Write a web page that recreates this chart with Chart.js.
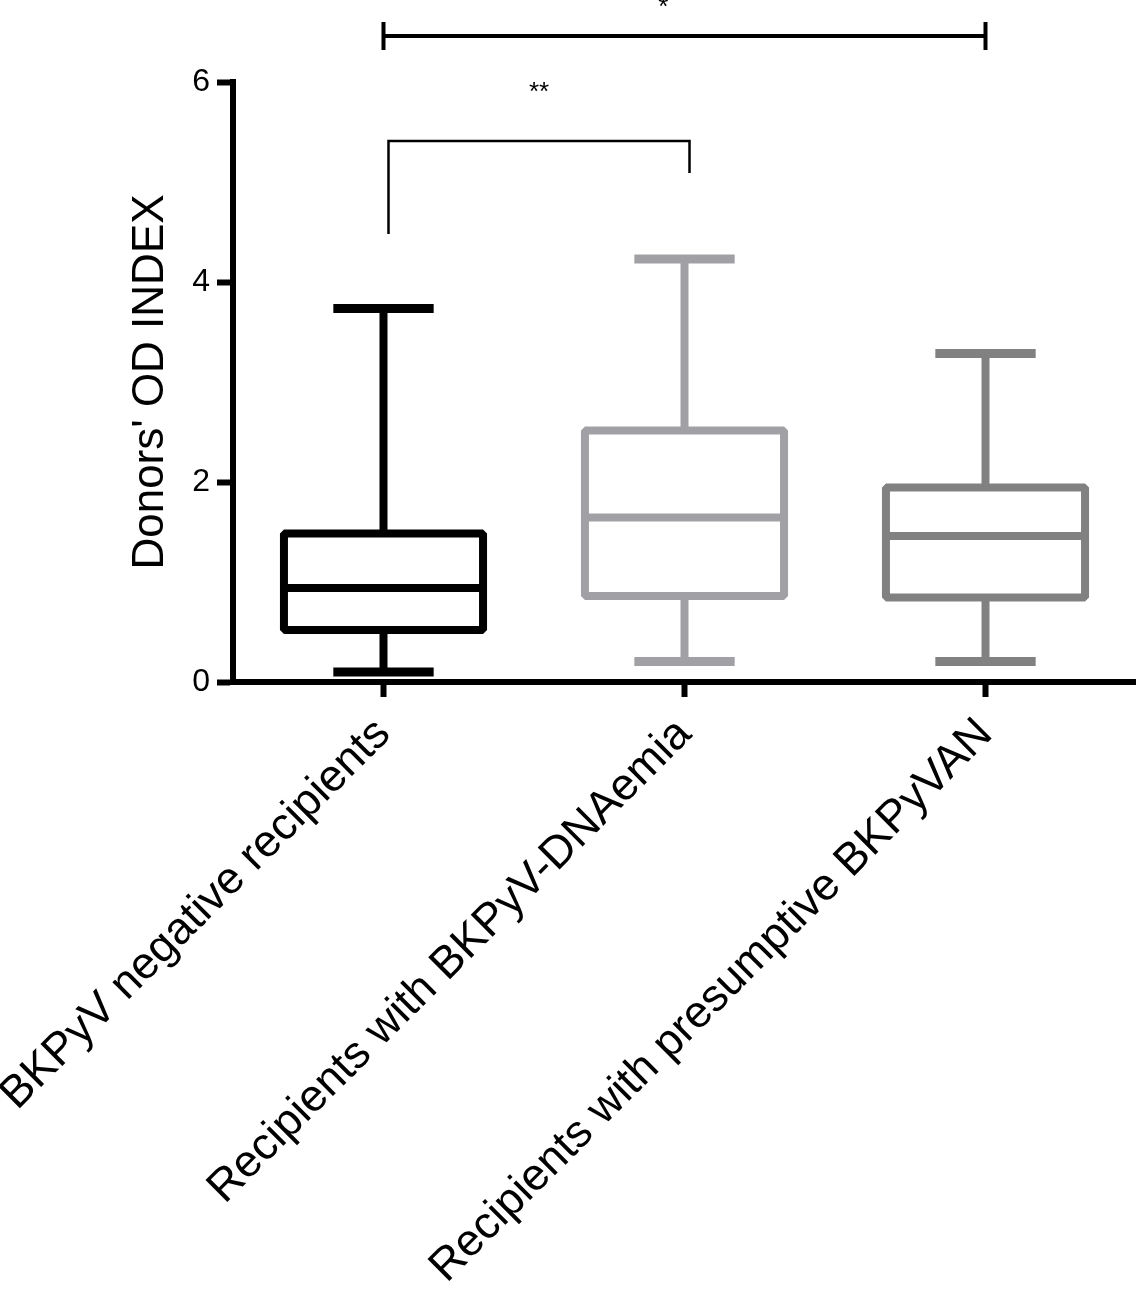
<!DOCTYPE html>
<html>
<head>
<meta charset="utf-8">
<title>Donors' OD INDEX</title>
<script src="https://cdn.jsdelivr.net/npm/chart.js@4.4.0/dist/chart.umd.min.js"></script>
<style>
  html, body { margin: 0; padding: 0; background: #fff; }
  #wrap { width: 1136px; height: 1291px; }
</style>
</head>
<body>
<div id="wrap"><canvas id="grafico" width="1136" height="1291"></canvas></div>
<script>
// groups on the x axis
const groups = [
  'BKPyV negative recipients',
  'Recipients with BKPyV-DNAemia',
  'Recipients with presumptive BKPyVAN'
];

// box plot values
const mins    = [0.10, 0.205, 0.205];
const q1s     = [0.52, 0.86, 0.845];
const medians = [0.94, 1.645, 1.46];
const q3s     = [1.485, 2.515, 1.945];
const maxs    = [3.735, 4.23, 3.285];

const yTicks = [0, 2, 4, 6];

// significance brackets: from group, to group, level, text
const bracketFrom  = [0, 0];
const bracketTo    = [2, 1];
const bracketLevel = [6.46, 5.41];
const bracketText  = ['*', '**'];

const boxColours = ['#000000', '#a1a1a5', '#818181'];
const FONT = "'Liberation Sans', Arial, Helvetica, sans-serif";

const boxPlot = {
  id: 'boxPlot',
  afterDatasetsDraw(chart) {
    const { ctx, scales: { x, y } } = chart;
    const bars = chart.getDatasetMeta(0).data;
    const lw = 8;
    const capHalf = (x.getPixelForValue(1) - x.getPixelForValue(0)) / 6;
    ctx.save();
    ctx.lineJoin = 'bevel';
    ctx.lineCap = 'butt';
    bars.forEach((bar, i) => {
      const cx = bar.x;
      const half = bar.width / 2 - lw / 2;
      const top = y.getPixelForValue(q3s[i]);
      const bot = y.getPixelForValue(q1s[i]);
      const med = y.getPixelForValue(medians[i]);
      const hi = y.getPixelForValue(maxs[i]);
      const lo = y.getPixelForValue(mins[i]);
      ctx.strokeStyle = boxColours[i];
      ctx.lineWidth = lw;
      ctx.strokeRect(cx - half, top, half * 2, bot - top);
      ctx.beginPath();
      ctx.moveTo(cx - half, med); ctx.lineTo(cx + half, med);
      ctx.moveTo(cx, top); ctx.lineTo(cx, hi);
      ctx.moveTo(cx, bot); ctx.lineTo(cx, lo);
      ctx.stroke();
      ctx.lineWidth = 9;
      ctx.beginPath();
      ctx.moveTo(cx - capHalf, hi); ctx.lineTo(cx + capHalf, hi);
      ctx.moveTo(cx - capHalf, lo); ctx.lineTo(cx + capHalf, lo);
      ctx.stroke();
    });
    ctx.restore();
  }
};

const brackets = {
  id: 'brackets',
  afterDraw(chart) {
    const { ctx, scales: { x, y } } = chart;
    ctx.save();
    ctx.strokeStyle = '#000';
    ctx.fillStyle = '#000';
    ctx.font = '26px ' + FONT;
    ctx.textAlign = 'center';
    ctx.textBaseline = 'middle';

    // wide bracket with end bars
    let x1 = x.getPixelForValue(bracketFrom[0]);
    let x2 = x.getPixelForValue(bracketTo[0]);
    let yy = y.getPixelForValue(bracketLevel[0]);
    ctx.lineWidth = 4;
    ctx.beginPath();
    ctx.moveTo(x1, yy); ctx.lineTo(x2, yy);
    ctx.moveTo(x1, yy - 14); ctx.lineTo(x1, yy + 14);
    ctx.moveTo(x2, yy - 14); ctx.lineTo(x2, yy + 14);
    ctx.stroke();
    ctx.fillText(bracketText[0], x.getPixelForValue(0.93), y.getPixelForValue(6.74));

    // narrow bracket with legs down to the boxes
    x1 = x.getPixelForValue(bracketFrom[1]) + 5;
    x2 = x.getPixelForValue(bracketTo[1]) + 5;
    yy = y.getPixelForValue(bracketLevel[1]);
    ctx.lineWidth = 2.5;
    ctx.lineJoin = 'miter';
    ctx.beginPath();
    ctx.moveTo(x1, y.getPixelForValue(4.48));
    ctx.lineTo(x1, yy);
    ctx.lineTo(x2, yy);
    ctx.lineTo(x2, y.getPixelForValue(5.09));
    ctx.stroke();
    ctx.fillText(bracketText[1], (x1 + x2) / 2, y.getPixelForValue(5.89));
    ctx.restore();
  }
};

new Chart(document.getElementById('grafico'), {
  type: 'bar',
  data: {
    labels: groups,
    datasets: [{
      data: groups.map((g, i) => [q1s[i], q3s[i]]),
      backgroundColor: 'rgba(0,0,0,0)',
      borderWidth: 0,
      barPercentage: 0.688,
      categoryPercentage: 1
    }]
  },
  options: {
    responsive: false,
    devicePixelRatio: 1,
    animation: false,
    layout: { padding: { top: 82, right: 0, left: 0, bottom: 0 } },
    plugins: { legend: { display: false }, tooltip: { enabled: false } },
    scales: {
      x: {
        afterFit: (scale) => {
          scale.height = 609;
          scale.paddingLeft = 0;
          scale.paddingRight = 0;
        },
        border: { color: '#000', width: 6 },
        grid: { offset: false, drawOnChartArea: false, tickLength: 15, tickWidth: 6, tickColor: '#000' },
        ticks: {
          autoSkip: false,
          maxRotation: 45,
          minRotation: 45,
          padding: 11,
          color: '#000',
          font: { family: FONT, size: 45 }
        }
      },
      y: {
        min: 0,
        max: 6,
        afterFit: (scale) => {
          scale.width = 233;
          scale.paddingTop = 0;
          scale.paddingBottom = 0;
        },
        afterBuildTicks: (scale) => { scale.ticks = yTicks.map(v => ({ value: v })); },
        border: { color: '#000', width: 6 },
        grid: { drawOnChartArea: false, tickLength: 16, tickWidth: 6, tickColor: '#000' },
        ticks: {
          padding: 7,
          color: '#000',
          font: { family: FONT, size: 32 }
        },
        title: {
          display: true,
          text: "Donors' OD INDEX",
          color: '#000',
          font: { family: FONT, size: 44 },
          padding: { top: 124, bottom: 0 }
        }
      }
    }
  },
  plugins: [boxPlot, brackets]
});
</script>
</body>
</html>
